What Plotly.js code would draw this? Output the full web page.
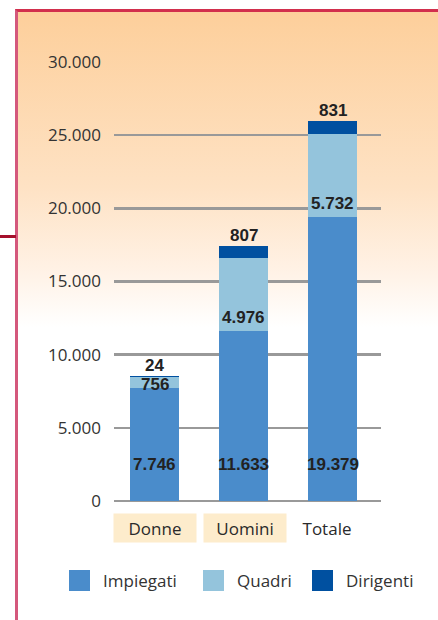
<!DOCTYPE html>
<html>
<head>
<meta charset="utf-8">
<script src="https://cdn.plot.ly/plotly-3.0.1.min.js"></script>
<style>
  html, body { margin:0; padding:0; width:438px; height:620px; overflow:hidden; background:#ffffff; }
  #frame { position:absolute; left:15px; top:9px; width:423px; height:611px;
           border-top:3px solid #d22f4d; border-left:3px solid #d4587c;
           background: linear-gradient(to bottom, #fdcf9b 0px, #fee2c4 175px, #fff2e6 260px, #ffffff 315px); }
  #tick { position:absolute; left:0; top:235px; width:16px; height:3px; background:#a5102c; }
  #chart { position:absolute; left:0; top:0; width:438px; height:620px; }
</style>
</head>
<body>
<div id="frame"></div>
<div id="tick"></div>
<div id="chart"></div>
<script>
// ---- data ----
const categories = ["Donne", "Uomini", "Totale"];
const impiegati  = [7746, 11633, 19379];
const quadri     = [756, 4976, 5732];
const dirigenti  = [24, 807, 831];
const seriesNames = ["Impiegati", "Quadri", "Dirigenti"];
const yTicks = [0, 5000, 10000, 15000, 20000, 25000, 30000];

// ---- styling ----
const colors = ["#4a8ccb", "#94c4dc", "#0050a0"];
const L = 114, R = 57, T = 62, B = 119, W = 438, H = 620;
const PW = W - L - R, PH = H - T - B;
const px2x = p => (p - L) / PW;
const py2y = p => (H - B - p) / PH;
const fmt = n => String(n).replace(/\B(?=(\d{3})+(?!\d))/g, ".");
const labelFont = {family: "Liberation Sans, Arial, sans-serif", size: 17, color: "#222222", weight: "bold"};
const regFont = "Open Sans, sans-serif";

const traces = [impiegati, quadri, dirigenti].map((vals, i) => ({
  type: "bar", x: categories, y: vals, name: seriesNames[i],
  marker: {color: colors[i], line: {width: 0}}, hoverinfo: "skip", showlegend: false
}));

const annotations = [];
categories.forEach((c, i) => {
  const tot = impiegati[i] + quadri[i] + dirigenti[i];
  annotations.push({x: c, y: 2500, xref: "x", yref: "y", text: fmt(impiegati[i]), showarrow: false,
    font: labelFont, yanchor: "middle"});
  // thin segments: label straddles the boundary, otherwise sits just inside the segment bottom
  const thin = quadri[i] < 2000;
  annotations.push({x: c, y: impiegati[i], xref: "x", yref: "y", text: fmt(quadri[i]), showarrow: false,
    font: labelFont, yanchor: thin ? "middle" : "bottom", yshift: thin ? 3 : 2});
  annotations.push({x: c, y: tot, xref: "x", yref: "y", text: fmt(dirigenti[i]), showarrow: false,
    font: labelFont, yanchor: "bottom", yshift: -1});
});
// category labels
const catBg = ["#fdeccc", "#fdeccc", "rgba(0,0,0,0)"];
const catShift = [0, 1, -6];
categories.forEach((c, i) => {
  annotations.push({x: c, xref: "x", y: 0, yref: "paper", yanchor: "top", yshift: -12, xshift: catShift[i],
    text: c, showarrow: false, bgcolor: catBg[i], width: 82, height: 28, borderpad: 0,
    font: {family: regFont, size: 17, color: "#2a2a2a"}});
});
// legend
const legSq = [69, 203, 312];
const shapes = [];
seriesNames.forEach((n, i) => {
  shapes.push({type: "rect", xref: "paper", yref: "paper",
    x0: px2x(legSq[i]), x1: px2x(legSq[i] + 21), y0: py2y(591), y1: py2y(570),
    fillcolor: colors[i], line: {width: 0}});
  annotations.push({xref: "paper", yref: "paper", x: px2x(legSq[i] + 32), y: py2y(580),
    xanchor: "left", yanchor: "middle", text: n, showarrow: false,
    font: {family: regFont, size: 17, color: "#333333"}});
});

const layout = {
  width: W, height: H,
  margin: {l: L, r: R, t: T, b: B, pad: 0},
  paper_bgcolor: "rgba(0,0,0,0)", plot_bgcolor: "rgba(0,0,0,0)",
  barmode: "stack", bargap: 0.45,
  separators: ",.",
  showlegend: false,
  xaxis: {type: "category", range: [-0.455, 2.545], showticklabels: false, showgrid: false,
          zeroline: false, showline: false, ticks: "", fixedrange: true},
  yaxis: {range: [0, 30000], tickvals: yTicks, ticktext: yTicks.map(fmt), showgrid: true,
          gridcolor: "#999999", gridwidth: 2.5, zeroline: true, zerolinecolor: "#999999", zerolinewidth: 2.5,
          showline: false, ticks: "", ticklabelstandoff: 12,
          tickfont: {family: regFont, size: 17, color: "#333333"}, fixedrange: true},
  annotations: annotations,
  shapes: shapes
};

Plotly.newPlot("chart", traces, layout, {displayModeBar: false, staticPlot: true});
</script>
</body>
</html>
